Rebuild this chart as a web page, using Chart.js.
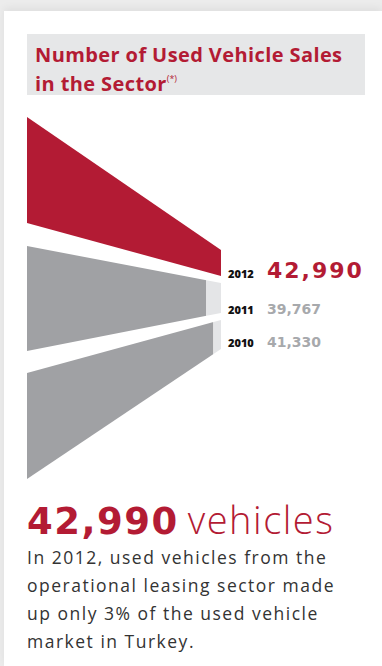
<!DOCTYPE html>
<html>
<head>
<meta charset="utf-8">
<script src="https://cdn.jsdelivr.net/npm/chart.js"></script>
<style>
  html, body { margin: 0; padding: 0; }
  body { width: 382px; height: 666px; background: #ececec; overflow: hidden; font-family: "Open Sans", Lato, sans-serif; }
  .card { position: absolute; left: 4px; top: 11px; width: 378px; height: 655px; background: #fff; box-shadow: 0 -3px 8px rgba(0,0,0,0.06); }
  .title { position: absolute; left: 27px; top: 34px; width: 338px; height: 61px; background: #e6e7e8; }
  .title h1 { margin: 0; position: absolute; left: 8px; top: 9px; font-size: 20px; line-height: 24px; font-weight: 700; letter-spacing: 0.4px; color: #b31b34; white-space: nowrap; }
  .title sup { font-size: 9px; font-weight: 400; vertical-align: 9px; letter-spacing: 0; }
  #funnel { position: absolute; left: 27px; top: 117px; width: 194px; height: 362px; }
  .lbl { position: absolute; left: 228px; height: 30px; display: flex; align-items: baseline; white-space: nowrap; }
  .lbl .yr { width: 39px; font-size: 11px; font-weight: 800; color: #111; }
  .lbl .val { font-family: "DejaVu Sans", sans-serif; font-weight: 700; color: #a7a9ac; font-size: 14px; }
  .lbl.cur .val { color: #b31b34; font-size: 22px; letter-spacing: 2px; }
  .big { position: absolute; left: 27px; top: 497px; font-size: 38px; line-height: 44px; color: #b31b34; white-space: nowrap; display: flex; align-items: baseline; }
  .big b { font-family: "DejaVu Sans", sans-serif; font-size: 37px; font-weight: 700; letter-spacing: 1.5px; margin-right: 9px; }
  .big span { font-weight: 300; letter-spacing: 1.5px; }
  .txt { position: absolute; left: 27px; top: 543px; font-size: 17.5px; line-height: 28px; letter-spacing: 1.5px; color: #333; white-space: nowrap; }
</style>
</head>
<body>
<div class="card"></div>
<div class="title"><h1>Number of Used Vehicle Sales<br>in the Sector<sup>(*)</sup></h1></div>
<div id="funnel"><canvas id="funnelChart"></canvas></div>
<div id="labels"></div>
<div class="big"><b id="bigNum"></b><span>vehicles</span></div>
<div class="txt">In 2012, used vehicles from the<br>operational leasing sector made<br>up only 3% of the used vehicle<br>market in Turkey.</div>
<script>
const years = ['2012', '2011', '2010'];
const sales = [42990, 39767, 41330];

// band edges in layout units (0 = top of the funnel), at the left end and at the right end
const bandLeft = [[0, 106], [129, 234], [256, 362]];
const bandRight = [[133, 159], [166, 196], [203, 232]];
const labelTop = [258, 301, 334];

const red = '#b31b34';
const gray = '#a0a1a4';
const tipGray = '#e4e5e7';
const maxSales = Math.max(...sales);

function edgeAt(i, side, x) {
    const a = bandLeft[i][side], b = bandRight[i][side];
    return a + (b - a) * x / maxSales;
}

function area(i, x0, x1, color) {
    const base = { borderColor: 'transparent', borderWidth: 0, pointRadius: 0, tension: 0 };
    return [
        Object.assign({}, base, { data: [{ x: x0, y: edgeAt(i, 0, x0) }, { x: x1, y: edgeAt(i, 0, x1) }], fill: false }),
        Object.assign({}, base, { data: [{ x: x0, y: edgeAt(i, 1, x0) }, { x: x1, y: edgeAt(i, 1, x1) }], fill: '-1', backgroundColor: color })
    ];
}

const datasets = [];
sales.forEach(function(v, i) {
    datasets.push(...area(i, 0, v, i === 0 ? red : gray));
    if (v < maxSales) datasets.push(...area(i, v, maxSales, tipGray));
});

new Chart(document.getElementById('funnelChart').getContext('2d'), {
    type: 'line',
    data: { datasets: datasets },
    options: {
        responsive: true,
        maintainAspectRatio: false,
        animation: false,
        layout: { padding: 0 },
        plugins: { legend: { display: false }, tooltip: { enabled: false } },
        scales: {
            x: { type: 'linear', min: 0, max: maxSales, display: false },
            y: { min: 0, max: 362, reverse: true, display: false }
        }
    }
});

const fmt = function(v) { return v.toLocaleString('en-US'); };
const box = document.getElementById('labels');
years.forEach(function(y, i) {
    const d = document.createElement('div');
    d.className = 'lbl' + (i === 0 ? ' cur' : '');
    d.style.top = labelTop[i] + 'px';
    d.innerHTML = '<span class="yr">' + y + '</span><span class="val">' + fmt(sales[i]) + '</span>';
    box.appendChild(d);
});
document.getElementById('bigNum').textContent = fmt(sales[0]);
</script>
</body>
</html>
